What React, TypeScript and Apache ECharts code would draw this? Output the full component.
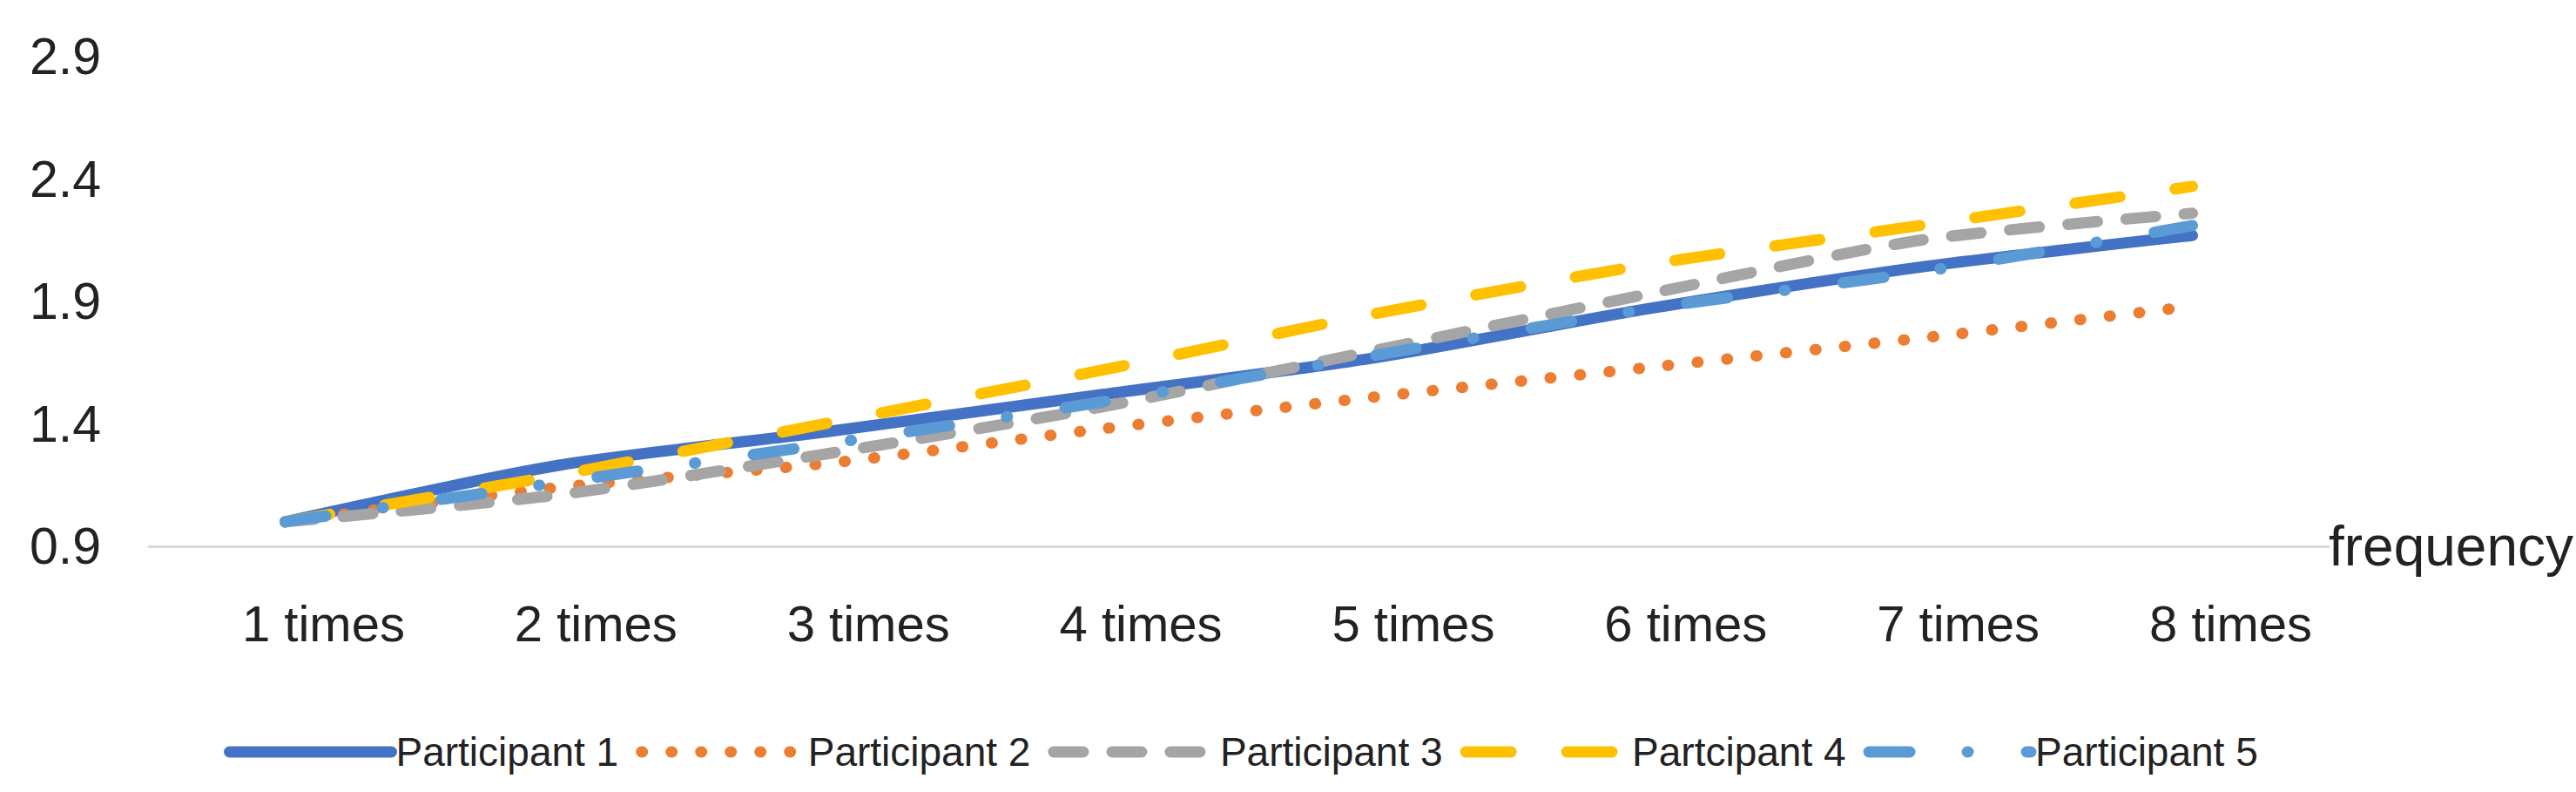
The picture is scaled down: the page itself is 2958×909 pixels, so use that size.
import React, { useEffect, useRef } from 'react';
import * as echarts from 'echarts';

const CATEGORIES = ['1 times', '2 times', '3 times', '4 times', '5 times', '6 times', '7 times', '8 times'];
const SERIES_NAMES = ['Participant 1', 'Participant 2', 'Participant 3', 'Partcipant 4', 'Participant 5'];
const P1 = [1.0, 1.23, 1.37, 1.52, 1.67, 1.87, 2.04, 2.17];
const P2 = [1.0, 1.14, 1.24, 1.38, 1.51, 1.63, 1.75, 1.88];
const P3 = [1.0, 1.11, 1.28, 1.47, 1.7, 1.93, 2.15, 2.26];
const P4 = [1.0, 1.19, 1.405, 1.62, 1.85, 2.05, 2.21, 2.37];
const P5 = [1.0, 1.16, 1.32, 1.49, 1.68, 1.87, 2.02, 2.21];
const Y_TICKS = [0.9, 1.4, 1.9, 2.4, 2.9];
const X_NAME = 'frequency';

const COLORS = ['#4472C4', '#ED7D31', '#A5A5A5', '#FFC000', '#5B9BD5'];
const DASHES: any[] = ['solid', [1, 33], [34, 33], [52, 64], [47, 66, 1, 67]];

const FONT = '"Liberation Sans", Arial, sans-serif';
const TEXT = '#222222';

export default function App() {
  const ref = useRef<HTMLDivElement>(null);
  useEffect(() => {
    if (!ref.current) return;
    const chart = echarts.init(ref.current, null, { renderer: 'svg' });
    const values = [P1, P2, P3, P4, P5];
    chart.setOption({
      animation: false,
      grid: { left: 171, right: 283, top: 65, bottom: 282, containLabel: false },
      legend: {
        left: 252,
        top: 833,
        itemWidth: 186,
        itemHeight: 14,
        itemGap: 20,
        data: SERIES_NAMES,
        itemStyle: { opacity: 0, borderWidth: 0 },
        lineStyle: { width: 13, cap: 'round' },
        textStyle: { fontFamily: FONT, fontSize: 46, color: TEXT, lineHeight: 50 },
      },
      xAxis: {
        type: 'category',
        data: CATEGORIES,
        boundaryGap: true,
        name: X_NAME,
        nameLocation: 'end',
        nameGap: 0,
        nameTextStyle: { fontFamily: FONT, fontSize: 64, color: TEXT, verticalAlign: 'middle' },
        axisLine: { show: true, lineStyle: { color: '#d9d9d9', width: 3 } },
        axisTick: { show: false },
        splitLine: { show: false },
        axisLabel: {
          fontFamily: FONT,
          fontSize: 58,
          color: TEXT,
          margin: 58,
          lineHeight: 60,
          padding: [0, 0, 0, 88],
        },
      },
      yAxis: {
        type: 'value',
        min: 0.9,
        max: 2.9,
        axisLine: { show: false },
        axisTick: { show: false },
        splitLine: { show: false },
        axisLabel: {
          customValues: Y_TICKS,
          formatter: (v: number) => v.toFixed(1),
          fontFamily: FONT,
          fontSize: 59,
          color: TEXT,
          margin: 55,
        },
      },
      series: values.map((vals, i) => ({
        name: SERIES_NAMES[i],
        type: 'line',
        data: vals,
        symbol: 'none',
        smooth: 0.25,
        color: COLORS[i],
        lineStyle: { color: COLORS[i], width: 13, type: DASHES[i], cap: 'round', join: 'round' },
        emphasis: { disabled: true },
      })),
    });
    return () => chart.dispose();
  }, []);
  return <div ref={ref} style={{ position: 'fixed', left: 0, top: 0, width: 2958, height: 909, background: '#fff' }} />;
}
